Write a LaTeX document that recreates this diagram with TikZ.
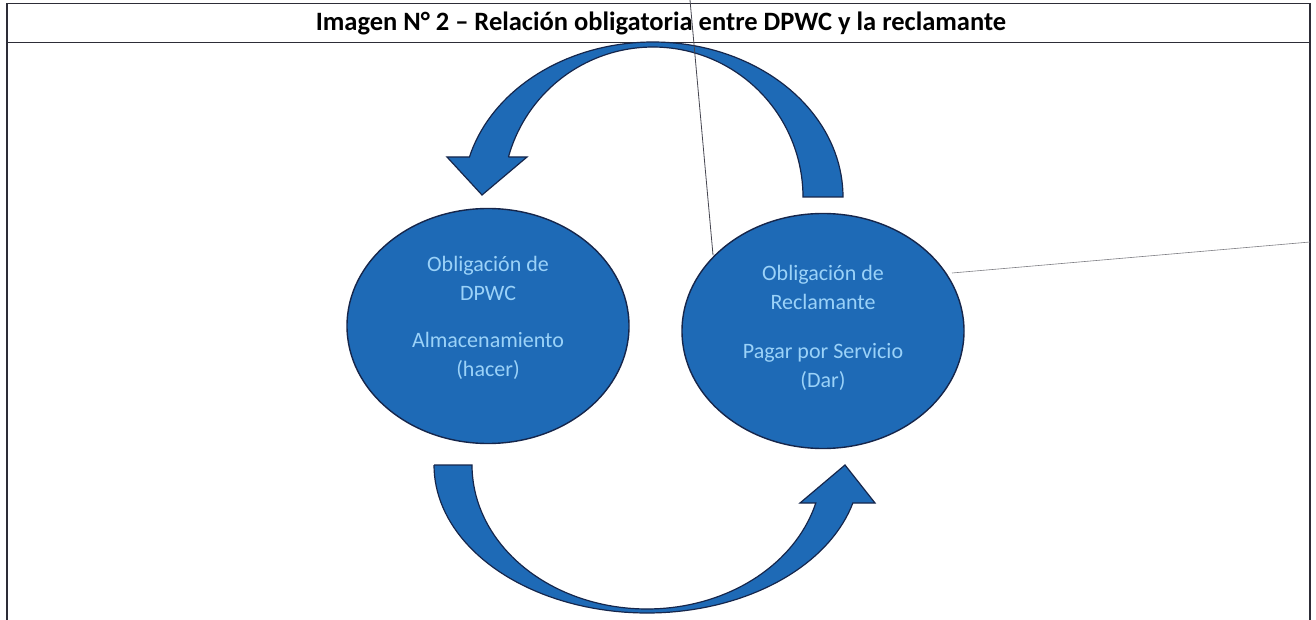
\documentclass[tikz,border=0pt]{standalone}
\usepackage{fontspec}
\setmainfont{Carlito}
\usetikzlibrary{shapes.geometric}
\definecolor{fillblue}{RGB}{30,106,182}
\definecolor{edgeblue}{RGB}{22,38,75}
\definecolor{txtblue}{RGB}{155,210,248}
\definecolor{framecol}{RGB}{45,45,55}
\definecolor{straycol}{RGB}{70,70,80}
\tikzset{
  frameline/.style={draw=framecol, line width=1.8pt},
  oblig/.style={ellipse, draw=edgeblue, line width=1.4pt, fill=fillblue,
                minimum width=282pt, minimum height=235pt, inner sep=0pt},
  obltext/.style={text=txtblue, align=center, inner sep=0pt,
                  font=\fontsize{22}{29}\selectfont},
  bigarrow/.style={fill=fillblue, draw=edgeblue, line width=1.2pt, line join=miter},
  stray/.style={draw=straycol, line width=0.8pt}
}
\begin{document}
\begin{tikzpicture}[x=1pt,y=-1pt]
\useasboundingbox (0,0) rectangle (1316,620);
\fill[white] (0,0) rectangle (1316,620);

% frame
\draw[frameline] (7,620) -- (7,3.5) -- (1310,3.5) -- (1310,620);
\draw[frameline] (7,42.5) -- (1310,42.5);
\node[font=\bfseries\fontsize{26.5}{30}\selectfont, inner sep=0pt] (title) at (661,23)
  {Imagen N° 2 – Relación obligatoria entre DPWC y la reclamante};

% obligations
\node[oblig] (dpwc) at (488,326) {};
\node[oblig] (recl) at (823,331) {};
\node[obltext] (dpwctext) at (488,318)
  {Obligación de\\DPWC\\[18pt]Almacenamiento\\(hacer)};
\node[obltext] (recltext) at (823,328)
  {Obligación de\\Reclamante\\[20pt]Pagar por Servicio\\(Dar)};

% top curved arrow (from Reclamante to DPWC)
\coordinate (ttail) at (823,197);
\coordinate (ttip) at (482,195);
\path[bigarrow] (803,197) -- (843,197)
  -- plot[domain=0:-165.04, samples=80, variable=\t] ({653+190*cos(\t)},{197+155*sin(\t)})
  -- (447,157) -- (ttip) -- (527,157) -- (508.4,157)
  -- plot[domain=-164.53:0, samples=80, variable=\t] ({653+150*cos(\t)},{197+150*sin(\t)})
  -- cycle;

% bottom curved arrow (from DPWC to Reclamante)
\coordinate (btail) at (453,465);
\coordinate (btip) at (845,465);
\path[bigarrow] (434,465) -- (472,465)
  -- plot[domain=180:15.3, samples=80, variable=\t] ({647+175*cos(\t)},{465+144*sin(\t)})
  -- (800,503) -- (btip) -- (875,503) -- (852.9,503)
  -- plot[domain=14.88:180, samples=80, variable=\t] ({647+213*cos(\t)},{465+148*sin(\t)})
  -- cycle;

% stray scan lines
\coordinate (s1a) at (690,0);
\coordinate (s1b) at (713,255);
\coordinate (s2a) at (952,273);
\coordinate (s2b) at (1310,242);
\draw[stray] (s1a) -- (s1b);
\draw[stray, line width=0.6pt, draw=straycol!70] (s2a) -- (s2b);
\end{tikzpicture}
\end{document}
